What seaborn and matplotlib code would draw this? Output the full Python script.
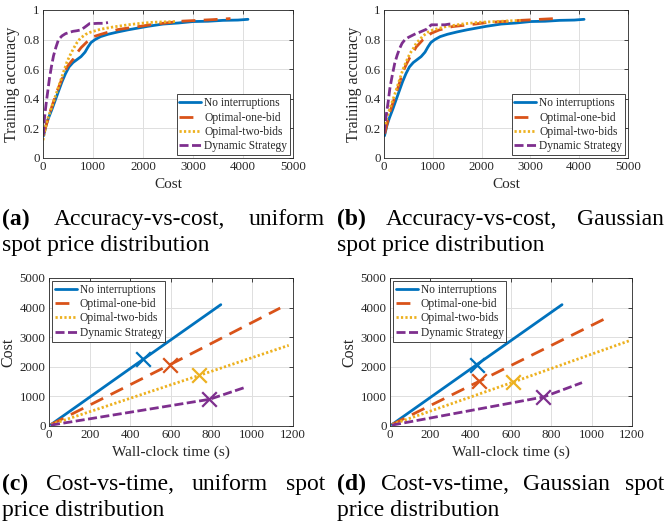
import numpy as np
import pandas as pd
import matplotlib
matplotlib.use("Agg")
import matplotlib.pyplot as plt
import seaborn as sns
from matplotlib.ticker import FuncFormatter, MultipleLocator
from matplotlib.lines import Line2D

# ---------------- data ----------------
series_names = ["No interruptions", "Optimal-one-bid", "Opimal-two-bids", "Dynamic Strategy"]

# (a)/(b) accuracy vs cost
blue_cost = [10, 60, 110, 180, 250, 320, 380, 450, 520, 600, 680, 760, 840, 900, 960, 1040, 1150,
             1300, 1500, 1700, 1900, 2100, 2400, 2700, 3000, 3300, 3600, 3900, 4100]
blue_acc = [0.15, 0.22, 0.27, 0.33, 0.395, 0.46, 0.515, 0.57, 0.615, 0.645, 0.665, 0.685, 0.715,
            0.75, 0.78, 0.80, 0.82, 0.836, 0.852, 0.866, 0.878, 0.89, 0.905, 0.912, 0.922, 0.924,
            0.93, 0.932, 0.937]

a_one_cost = [20, 80, 140, 210, 280, 350, 410, 480, 550, 610, 680, 760, 880, 1010, 1150, 1300,
              1500, 1700, 1950, 2200, 2500, 2800, 3100, 3400, 3750]
a_one_acc = [0.17, 0.24, 0.31, 0.38, 0.45, 0.51, 0.56, 0.615, 0.645, 0.67, 0.71, 0.745, 0.785,
             0.82, 0.835, 0.85, 0.868, 0.878, 0.89, 0.903, 0.914, 0.925, 0.93, 0.935, 0.942]
a_two_cost = [0, 40, 80, 140, 210, 280, 350, 420, 480, 550, 610, 680, 750, 850, 950, 1150, 1400,
              1700, 1950, 2200, 2450, 2650]
a_two_acc = [0.12, 0.19, 0.25, 0.31, 0.38, 0.45, 0.52, 0.59, 0.65, 0.70, 0.74, 0.78, 0.81, 0.835,
             0.85, 0.87, 0.885, 0.90, 0.91, 0.917, 0.92, 0.922]
a_dyn_cost = [5, 30, 60, 95, 130, 170, 210, 260, 310, 380, 450, 520, 600, 680, 750, 820, 880,
              930, 1000, 1100, 1200, 1300]
a_dyn_acc = [0.15, 0.27, 0.36, 0.45, 0.54, 0.62, 0.69, 0.75, 0.80, 0.825, 0.84, 0.848, 0.856,
             0.86, 0.865, 0.88, 0.895, 0.908, 0.908, 0.91, 0.91, 0.915]

b_one_cost = [15, 70, 120, 190, 260, 330, 390, 460, 530, 600, 660, 730, 800, 880, 970, 1130,
              1400, 1750, 2100, 2450, 2800, 3200, 3620]
b_one_acc = [0.165, 0.24, 0.31, 0.38, 0.45, 0.52, 0.585, 0.635, 0.68, 0.715, 0.75, 0.775, 0.80,
             0.82, 0.843, 0.865, 0.888, 0.90, 0.915, 0.922, 0.93, 0.937, 0.944]
b_two_cost = [0, 60, 120, 190, 260, 330, 390, 460, 530, 600, 660, 730, 800, 900, 1000, 1270,
              1600, 1950, 2300, 2600, 2800]
b_two_acc = [0.2, 0.27, 0.335, 0.40, 0.47, 0.54, 0.60, 0.655, 0.705, 0.74, 0.775, 0.80, 0.825,
             0.85, 0.865, 0.888, 0.905, 0.917, 0.922, 0.927, 0.93]
b_dyn_cost = [0, 25, 55, 90, 120, 170, 220, 270, 320, 370, 430, 500, 560, 650, 730, 800, 870,
              920, 970, 1050, 1140, 1250, 1340, 1400]
b_dyn_acc = [0.166, 0.24, 0.31, 0.39, 0.47, 0.56, 0.64, 0.695, 0.74, 0.775, 0.80, 0.815, 0.825,
             0.84, 0.85, 0.86, 0.87, 0.885, 0.90, 0.90, 0.90, 0.90, 0.905, 0.905]

# (c)/(d) cost vs wall-clock time
c_time = {"No interruptions": [10, 463, 845], "Optimal-one-bid": [10, 595, 1137],
          "Opimal-two-bids": [10, 740, 1179], "Dynamic Strategy": [10, 789, 970]}
c_cost = {"No interruptions": [50, 2252, 4099], "Optimal-one-bid": [50, 2072, 3986],
          "Opimal-two-bids": [50, 1712, 2725], "Dynamic Strategy": [30, 901, 1318]}
c_mark_time = [463, 595, 740, 789]
c_mark_cost = [2252, 2072, 1712, 901]

d_time = {"No interruptions": [10, 430, 853], "Optimal-one-bid": [10, 442, 1060],
          "Opimal-two-bids": [10, 612, 1192], "Dynamic Strategy": [10, 761, 952]}
d_cost = {"No interruptions": [50, 2072, 4099], "Optimal-one-bid": [50, 1509, 3604],
          "Opimal-two-bids": [50, 1486, 2894], "Dynamic Strategy": [30, 980, 1464]}
d_mark_time = [430, 442, 612, 761]
d_mark_cost = [2072, 1509, 1486, 980]

# ---------------- style ----------------
sns.set_theme(style="white")
plt.rcParams['font.family'] = ['Liberation Serif', 'DejaVu Serif']
plt.rcParams['lines.scale_dashes'] = False

colors = {"No interruptions": "#0072BD", "Optimal-one-bid": "#D95319",
          "Opimal-two-bids": "#EDB120", "Dynamic Strategy": "#7E2F8E"}
lstyles = {"No interruptions": "-", "Optimal-one-bid": (0, (10, 6)),
           "Opimal-two-bids": (0, (1.6, 1.6)), "Dynamic Strategy": (0, (6.5, 2.5))}
LW = 2.0

W, H = 665, 529
fig = plt.figure(figsize=(W / 100, H / 100), dpi=100)


def px_axes(l, t, r, b):
    return fig.add_axes([l / W, 1 - b / H, (r - l) / W, (b - t) / H])


def style_axes(ax, xlim, ylim, xstep, ystep, xlabel, ylabel, xfs, yfs):
    ax.set_xlim(*xlim)
    ax.set_ylim(*ylim)
    ax.xaxis.set_major_locator(MultipleLocator(xstep))
    ax.yaxis.set_major_locator(MultipleLocator(ystep))
    fmt = FuncFormatter(lambda v, p: f"{v:g}")
    ax.xaxis.set_major_formatter(fmt)
    ax.yaxis.set_major_formatter(fmt)
    ax.grid(True, color="#dedede", linewidth=0.7)
    ax.set_axisbelow(True)
    for s in ax.spines.values():
        s.set_color("#262626")
        s.set_linewidth(0.6)
    ax.tick_params(direction="in", length=3, width=0.6, labelsize=9.3, colors="#262626",
                   top=True, right=True, pad=2.5)
    ax.set_xlabel(xlabel, fontsize=xfs, color="#262626", labelpad=3)
    ax.set_ylabel(ylabel, fontsize=yfs, color="#262626", labelpad=2)


def add_legend(ax, **kw):
    handles = [Line2D([], [], color=colors[n], linestyle=lstyles[n], linewidth=LW) for n in series_names]
    leg = ax.legend(handles, series_names, fontsize=8.3, frameon=True, fancybox=False,
                    edgecolor="#262626", framealpha=1, handlelength=1.9, handletextpad=0.25,
                    labelspacing=0.2, borderpad=0.25, **kw)
    leg.get_frame().set_linewidth(0.6)
    return leg


def acc_panel(ax, data):
    for name, (xs, ys) in zip(series_names, data):
        sns.lineplot(x=xs, y=ys, ax=ax, color=colors[name], linestyle=lstyles[name],
                     linewidth=LW, sort=False, estimator=None)
    style_axes(ax, (0, 5000), (0, 1), 1000, 0.2, "Cost", "Training accuracy", 11, 11.5)
    add_legend(ax, loc="lower right", borderaxespad=0.25)


def cost_panel(ax, times, costs, mt, mc):
    for name in series_names:
        sns.lineplot(x=times[name], y=costs[name], ax=ax, color=colors[name],
                     linestyle=lstyles[name], linewidth=LW, sort=False, estimator=None)
    for i, name in enumerate(series_names):
        sns.scatterplot(x=[mt[i]], y=[mc[i]], ax=ax, marker="x", s=110, color=colors[name],
                        linewidth=1.6, zorder=5)
    style_axes(ax, (0, 1200), (0, 5000), 200, 1000, "Wall-clock time (s)", "Cost", 11, 11.5)
    add_legend(ax, loc="upper left", borderaxespad=0.25)


ax_a = px_axes(43, 10, 293, 158)
acc_panel(ax_a, [(blue_cost, blue_acc), (a_one_cost, a_one_acc),
                 (a_two_cost, a_two_acc), (a_dyn_cost, a_dyn_acc)])
ax_b = px_axes(384, 10, 628, 158)
acc_panel(ax_b, [(blue_cost, blue_acc), (b_one_cost, b_one_acc),
                 (b_two_cost, b_two_acc), (b_dyn_cost, b_dyn_acc)])
ax_c = px_axes(49, 278, 293, 426)
cost_panel(ax_c, c_time, c_cost, c_mark_time, c_mark_cost)
ax_d = px_axes(390, 278, 632, 426)
cost_panel(ax_d, d_time, d_cost, d_mark_time, d_mark_cost)

# ---------------- captions ----------------
CFS = 17
fig.canvas.draw()
renderer = fig.canvas.get_renderer()


def justified(words, x0, x1, ybase):
    texts = []
    for i, w in enumerate(words):
        t = fig.text(0, 1 - ybase / H, w, fontsize=CFS, color="black",
                     fontweight="bold" if i == 0 else "normal", va="baseline", ha="left")
        texts.append(t)
    widths = [t.get_window_extent(renderer).width for t in texts]
    gap = (x1 - x0 - sum(widths)) / (len(words) - 1)
    x = x0
    for t, w in zip(texts, widths):
        t.set_x(x / W)
        x += w + gap


def plain(text, x0, ybase):
    fig.text(x0 / W, 1 - ybase / H, text, fontsize=CFS, color="black", va="baseline", ha="left")


justified(["(a)", "Accuracy-vs-cost,", "uniform"], 2, 325, 225)
plain("spot price distribution", 2, 251)
justified(["(b)", "Accuracy-vs-cost,", "Gaussian"], 337, 664, 225)
plain("spot price distribution", 337, 251)
justified(["(c)", "Cost-vs-time,", "uniform", "spot"], 2, 325, 490)
plain("price distribution", 2, 516)
justified(["(d)", "Cost-vs-time,", "Gaussian", "spot"], 337, 664, 490)
plain("price distribution", 337, 516)

fig.savefig("out.png", dpi=100)
